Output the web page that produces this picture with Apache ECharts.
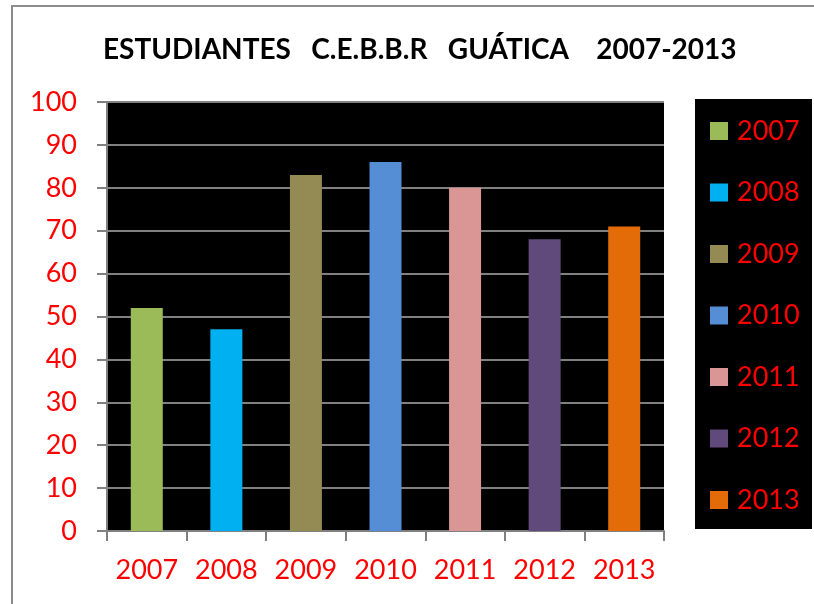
<!DOCTYPE html>
<html>
<head>
<meta charset="utf-8">
<script src="https://cdn.jsdelivr.net/npm/echarts@6/dist/echarts.min.js"></script>
<style>
  html, body { margin: 0; padding: 0; background: #fff; }
  #chart { width: 814px; height: 604px; }
</style>
</head>
<body>
<div id="chart"></div>
<script>
// años y número de estudiantes
const years = ['2007', '2008', '2009', '2010', '2011', '2012', '2013'];
const students = [52, 47, 83, 86, 80, 68, 71];
const barColors = ['#9BBB59', '#00B0F0', '#948A54', '#558ED5', '#D99694', '#604A7B', '#E36C09'];
const yTicks = [0, 10, 20, 30, 40, 50, 60, 70, 80, 90, 100];

const chart = echarts.init(document.getElementById('chart'));

// una serie por año, para que la leyenda muestre cada año
const series = years.map((y, i) => ({
  name: y,
  type: 'bar',
  stack: 'total',
  barWidth: 32,
  itemStyle: { color: barColors[i] },
  data: years.map((_, j) => (j === i ? students[i] : '-'))
}));

const font = 'Lato, "Open Sans", sans-serif';

chart.setOption({
  backgroundColor: '#fff',
  animation: false,
  color: barColors,
  title: {
    text: 'ESTUDIANTES   C.E.B.B.R   GUÁTICA    2007-2013',
    left: 98,
    top: 31,
    textStyle: { fontFamily: font, fontSize: 28, fontWeight: 'bold', color: '#000' }
  },
  graphic: [
    {
      type: 'rect',
      shape: { x: 12, y: 6, width: 820, height: 620 },
      style: { fill: 'none', stroke: '#8c8c8c', lineWidth: 2 },
      z: -10
    },
    {
      type: 'rect',
      shape: { x: 695, y: 99, width: 117, height: 430 },
      style: { fill: '#000' },
      z: -5
    }
  ],
  legend: {
    orient: 'vertical',
    left: 710,
    top: 116,
    padding: 0,
    itemGap: 31.5,
    itemWidth: 18,
    itemHeight: 18,
    icon: 'rect',
    textStyle: { fontFamily: font, fontSize: 27, color: '#ff0000', lineHeight: 30, padding: [0, 0, 0, 4] },
    data: years
  },
  grid: {
    left: 107,
    right: 150,
    top: 102,
    bottom: 73,
    show: true,
    backgroundColor: '#000',
    borderWidth: 0
  },
  xAxis: {
    type: 'category',
    data: years,
    axisLine: { lineStyle: { color: '#808080', width: 2 } },
    axisTick: { show: true, length: 10, lineStyle: { color: '#808080', width: 2 } },
    axisLabel: { interval: 0, hideOverlap: false, fontFamily: font, fontSize: 27, color: '#ff0000', margin: 26 }
  },
  yAxis: {
    type: 'value',
    min: yTicks[0],
    max: yTicks[yTicks.length - 1],
    interval: 10,
    axisLine: { show: true, lineStyle: { color: '#808080', width: 2 } },
    axisTick: { show: true, length: 10, lineStyle: { color: '#808080', width: 2 } },
    splitLine: { lineStyle: { color: '#808080', width: 2 } },
    axisLabel: { fontFamily: font, fontSize: 27, color: '#ff0000', margin: 30 }
  },
  series: series
});
</script>
</body>
</html>
